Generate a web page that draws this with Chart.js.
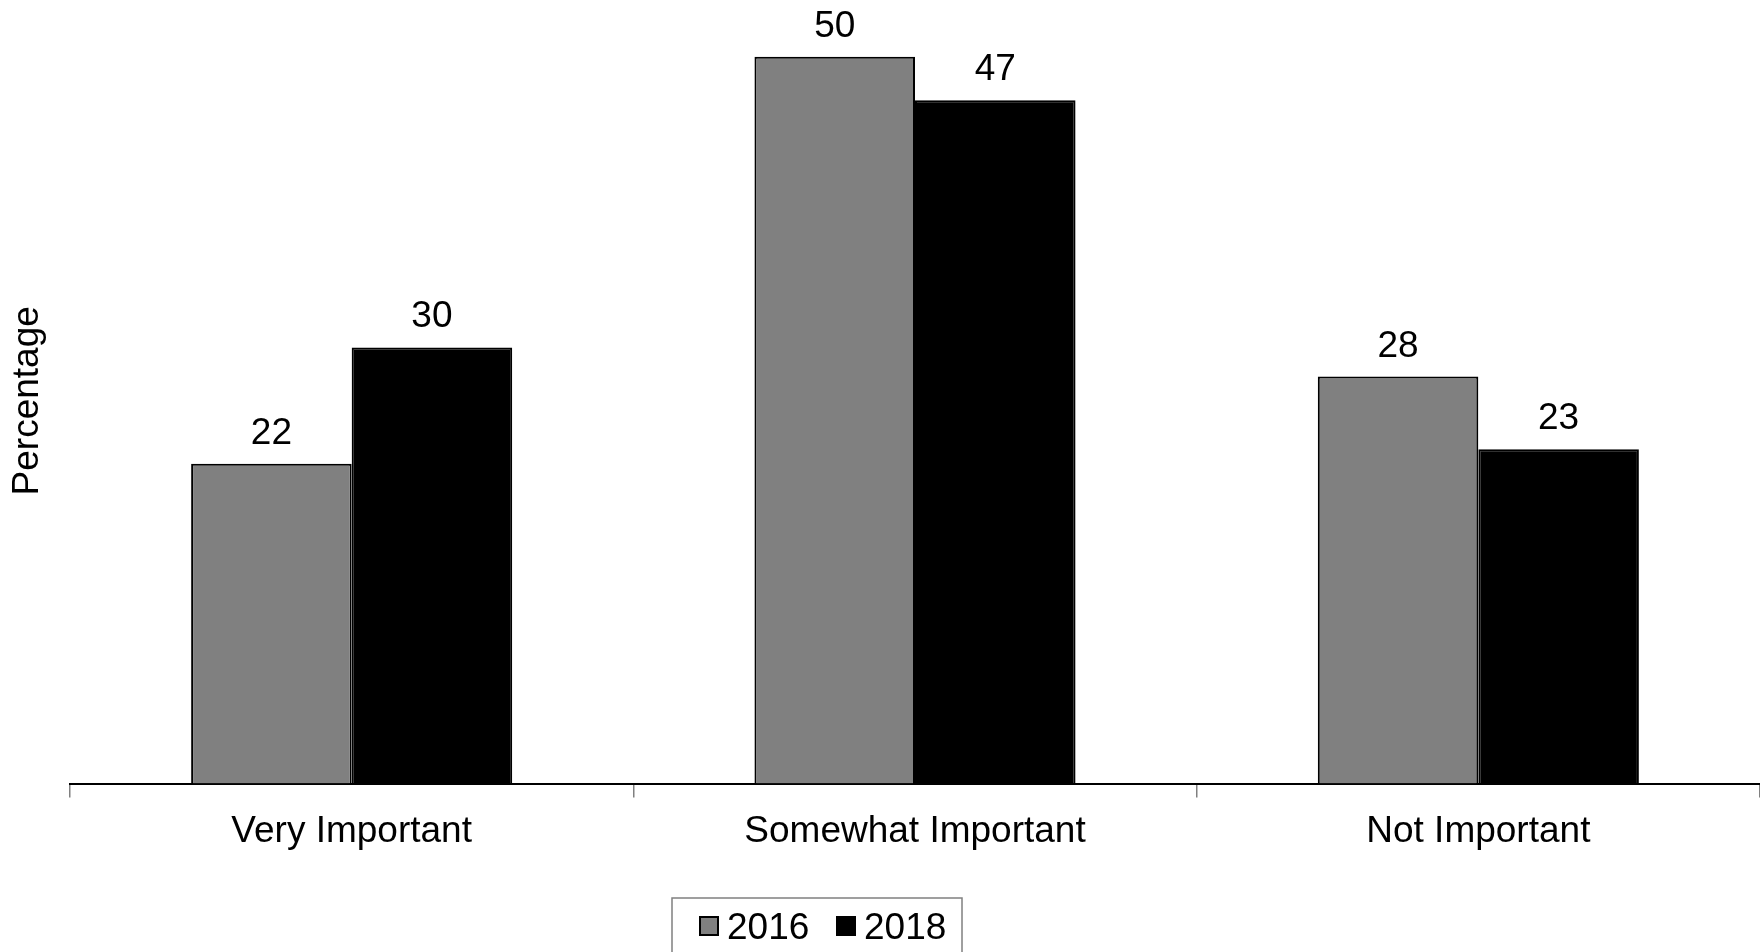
<!DOCTYPE html>
<html>
<head>
<meta charset="utf-8">
<script src="https://cdn.jsdelivr.net/npm/chart.js@4"></script>
<style>
    html, body { margin: 0; padding: 0; background: #fff; }
    #wrap { width: 1760px; height: 952px; position: relative; }
</style>
</head>
<body>
<div id="wrap"><canvas id="grafico"></canvas></div>
<script>
// Datos del gráfico
const categorias = ['Very Important', 'Somewhat Important', 'Not Important'];
const series = ['2016', '2018'];
const valores2016 = [22, 50, 28];
const valores2018 = [30, 47, 23];
const colores = ['#808080', '#000000'];
const tituloY = 'Percentage';

const fuente = '"Liberation Sans", Arial, sans-serif';
const tamFuente = 37;

// Etiquetas de valor encima de cada barra
const etiquetasValor = {
    id: 'etiquetasValor',
    afterDatasetsDraw(chart) {
        const ctx = chart.ctx;
        ctx.save();
        ctx.font = tamFuente + 'px ' + fuente;
        ctx.fillStyle = '#000';
        ctx.textAlign = 'center';
        ctx.textBaseline = 'alphabetic';
        chart.data.datasets.forEach((ds, i) => {
            chart.getDatasetMeta(i).data.forEach((bar, j) => {
                ctx.fillText(ds.data[j], bar.x, bar.y - 20);
            });
        });
        ctx.restore();
    }
};

// Título del eje Y y leyenda con recuadro
const extras = {
    id: 'extras',
    afterDraw(chart) {
        const ctx = chart.ctx;
        const area = chart.chartArea;
        ctx.save();
        ctx.font = tamFuente + 'px ' + fuente;
        ctx.fillStyle = '#000';
        ctx.translate(28, (area.top + area.bottom) / 2 + 9);
        ctx.rotate(-Math.PI / 2);
        ctx.textAlign = 'center';
        ctx.textBaseline = 'middle';
        ctx.fillText(tituloY, 0, 0);
        ctx.restore();

        // Leyenda
        ctx.save();
        ctx.strokeStyle = '#808080';
        ctx.lineWidth = 1.5;
        ctx.strokeRect(672, 898, 290, 70);
        ctx.font = tamFuente + 'px ' + fuente;
        ctx.textBaseline = 'middle';
        ctx.textAlign = 'left';
        const posiciones = [699, 836];
        chart.data.datasets.forEach((ds, i) => {
            const x = posiciones[i];
            ctx.fillStyle = ds.backgroundColor;
            ctx.fillRect(x, 916, 20, 20);
            ctx.strokeStyle = '#000';
            ctx.lineWidth = 2;
            ctx.strokeRect(x + 1, 917, 18, 18);
            ctx.fillStyle = '#000';
            ctx.fillText(ds.label, x + 28, 929);
        });
        ctx.restore();
    }
};

new Chart(document.getElementById('grafico'), {
    type: 'bar',
    data: {
        labels: categorias,
        datasets: [
            { label: series[0], data: valores2016, backgroundColor: colores[0], borderColor: '#000', borderWidth: 2 },
            { label: series[1], data: valores2018, backgroundColor: colores[1], borderColor: '#000', borderWidth: 2 }
        ]
    },
    options: {
        responsive: true,
        maintainAspectRatio: false,
        animation: false,
        layout: { padding: { left: 70, right: 0, top: 0, bottom: 86 } },
        plugins: {
            legend: { display: false },
            tooltip: { enabled: false }
        },
        datasets: {
            bar: { categoryPercentage: 0.57, barPercentage: 1 }
        },
        scales: {
            x: {
                offset: true,
                grid: {
                    display: true,
                    offset: true,
                    drawOnChartArea: false,
                    drawTicks: true,
                    tickLength: 14,
                    color: '#808080',
                    lineWidth: 1.5
                },
                border: { display: true, color: '#000', width: 2 },
                ticks: {
                    color: '#000',
                    padding: 12,
                    font: { size: tamFuente, family: fuente }
                }
            },
            y: {
                display: false,
                min: 0,
                max: 53.9
            }
        }
    },
    plugins: [etiquetasValor, extras]
});
</script>
</body>
</html>
